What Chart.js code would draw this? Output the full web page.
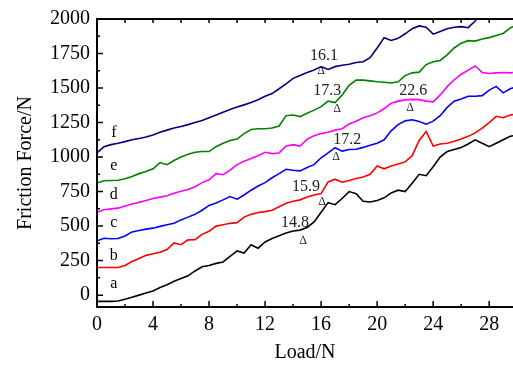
<!DOCTYPE html>
<html>
<head>
<meta charset="utf-8">
<script src="https://cdn.jsdelivr.net/npm/chart.js@4"></script>
<style>
  body { margin: 0; background: #fff; }
</style>
</head>
<body>
<canvas id="friction_chart" width="513" height="367"></canvas>
<script>
// Load (N), sampled every 0.5 N
const load = [0, 0.5, 1, 1.5, 2, 2.5, 3, 3.5, 4, 4.5, 5, 5.5, 6, 6.5, 7, 7.5, 8, 8.5, 9, 9.5,
    10, 10.5, 11, 11.5, 12, 12.5, 13, 13.5, 14, 14.5, 15, 15.5, 16, 16.5, 17, 17.5, 18, 18.5, 19, 19.5,
    20, 20.5, 21, 21.5, 22, 22.5, 23, 23.5, 24, 24.5, 25, 25.5, 26, 26.5, 27, 27.5, 28, 28.5, 29, 29.5, 30];

// Friction force (N) of each curve, curves offset as in the figure
const force_a = [-45, -45, -45, -42, -30, -15, 0, 15, 30, 55, 75, 100, 120, 140, 175, 205, 215, 230, 240, 280,
    320, 305, 365, 340, 385, 410, 430, 450, 465, 471, 490, 530, 600, 670, 655, 700, 750, 735, 680, 675,
    685, 705, 740, 760, 750, 810, 875, 865, 930, 1000, 1040, 1055, 1070, 1095, 1125, 1100, 1075, 1100, 1125, 1150, 1160];
const force_b = [200, 200, 200, 200, 215, 243, 265, 288, 300, 310, 330, 378, 365, 400, 402, 440, 462, 500, 510, 520,
    525, 565, 585, 598, 605, 615, 640, 665, 680, 690, 710, 725, 735, 820, 840, 818, 830, 845, 855, 875,
    935, 915, 935, 950, 965, 1010, 1120, 1185, 1080, 1095, 1100, 1115, 1130, 1150, 1175, 1210, 1250, 1295, 1285, 1305, 1310];
const force_c = [393, 412, 408, 410, 428, 458, 468, 478, 485, 498, 510, 520, 545, 565, 585, 615, 650, 668, 690, 714,
    695, 725, 760, 790, 815, 850, 880, 912, 905, 900, 925, 945, 995, 1030, 1068, 1043, 1055, 1057, 1070, 1085,
    1100, 1125, 1190, 1235, 1262, 1270, 1257, 1238, 1260, 1300, 1360, 1405, 1420, 1440, 1440, 1445, 1485, 1512, 1465, 1495, 1510];
const force_d = [600, 618, 625, 630, 645, 660, 672, 685, 700, 710, 720, 738, 752, 765, 785, 815, 835, 880, 872, 905,
    945, 970, 990, 1010, 1035, 1025, 1030, 1080, 1090, 1080, 1130, 1155, 1170, 1180, 1195, 1205, 1240, 1260, 1285, 1300,
    1320, 1350, 1390, 1405, 1414, 1418, 1416, 1405, 1400, 1450, 1510, 1560, 1600, 1630, 1660, 1612, 1605, 1610, 1612, 1610, 1615];
const force_e = [812, 828, 830, 832, 843, 860, 880, 895, 915, 960, 945, 975, 1000, 1020, 1035, 1040, 1040, 1075, 1100, 1120,
    1130, 1170, 1200, 1205, 1205, 1210, 1225, 1300, 1305, 1293, 1318, 1340, 1365, 1405, 1395, 1450, 1520, 1558, 1557, 1552,
    1545, 1542, 1536, 1545, 1590, 1610, 1615, 1670, 1690, 1700, 1740, 1790, 1825, 1843, 1840, 1855, 1865, 1880, 1895, 1935, 1960];
const force_f = [1030, 1075, 1090, 1100, 1112, 1125, 1135, 1145, 1160, 1180, 1195, 1210, 1222, 1235, 1250, 1265, 1285, 1305, 1325, 1345,
    1362, 1378, 1395, 1415, 1440, 1460, 1495, 1530, 1570, 1590, 1612, 1630, 1655, 1635, 1655, 1665, 1672, 1685, 1690, 1720,
    1790, 1865, 1845, 1860, 1893, 1930, 1950, 1940, 1890, 1910, 1930, 1940, 1945, 1937, 1985, 2060, 2130, null, null, null, null];

const curve_names = ['a', 'b', 'c', 'd', 'e', 'f'];
const curve_colors = ['#000000', '#ff0000', '#0000ff', '#ff00ff', '#008000', '#000080'];
const curve_forces = [force_a, force_b, force_c, force_d, force_e, force_f];

// letter labels at the start of each curve (load, force at text baseline)
const letter_load = 1.2;
const letter_force = [50, 257, 493, 693, 907, 1143];

// transition points marked with a triangle
const mark_text = ['14.8', '15.9', '17.2', '16.1', '17.3', '22.6'];
const mark_text_load = [14.14, 14.93, 17.86, 16.21, 16.43, 22.57];
const mark_text_force = [493, 757, 1093, 1700, 1450, 1450];
const mark_load = [14.71, 16.07, 17.07, 16.0, 17.14, 22.36];
const mark_force = [371, 650, 979, 1600, 1329, 1336];

const serif = '"Liberation Serif", "Times New Roman", serif';
Chart.defaults.font.family = serif;
Chart.defaults.color = '#000';

const datasets = curve_names.map((name, i) => ({
    label: name,
    data: load.map((l, j) => ({x: l, y: curve_forces[i][j]})),
    borderColor: curve_colors[i],
    borderWidth: 1.6,
    pointRadius: 0,
    tension: 0,
    spanGaps: false
}));

const frame_plugin = {
    id: 'frame',
    afterDraw(chart) {
        const {ctx, chartArea: area, scales: {x, y}} = chart;
        ctx.save();
        ctx.strokeStyle = '#000';
        ctx.lineWidth = 2;
        ctx.beginPath();
        ctx.moveTo(area.right, area.top);
        ctx.lineTo(area.left, area.top);
        ctx.lineTo(area.left, area.bottom);
        ctx.lineTo(area.right, area.bottom);
        ctx.stroke();

        // inward ticks
        ctx.lineWidth = 1.5;
        ctx.beginPath();
        for (let v = 0; v <= 28; v += 2) {
            const px = x.getPixelForValue(v);
            const len = v % 4 === 0 ? 6 : 3;
            ctx.moveTo(px, area.bottom);
            ctx.lineTo(px, area.bottom - len);
            ctx.moveTo(px, area.top);
            ctx.lineTo(px, area.top + 4);
        }
        for (let v = 0; v <= 2000; v += 125) {
            const py = y.getPixelForValue(v);
            const len = v % 250 === 0 ? 6 : 3;
            ctx.moveTo(area.left, py);
            ctx.lineTo(area.left + len, py);
        }
        ctx.stroke();

        // curve letters
        ctx.fillStyle = '#000';
        ctx.textAlign = 'center';
        ctx.textBaseline = 'alphabetic';
        ctx.font = '16px ' + serif;
        curve_names.forEach((name, i) => {
            ctx.fillText(name, x.getPixelForValue(letter_load), y.getPixelForValue(letter_force[i]));
        });

        // transition marks
        mark_text.forEach((t, i) => {
            ctx.font = '16px ' + serif;
            ctx.fillStyle = '#222';
            ctx.fillText(t, x.getPixelForValue(mark_text_load[i]), y.getPixelForValue(mark_text_force[i]));
            ctx.font = '12px ' + serif;
            ctx.fillText('\u0394', x.getPixelForValue(mark_load[i]), y.getPixelForValue(mark_force[i]));
        });
        ctx.restore();
    }
};

const config = {
    type: 'line',
    data: {datasets: datasets},
    options: {
        responsive: false,
        animation: false,
        layout: {padding: {top: 15, right: 0, left: 0, bottom: 0}},
        plugins: {
            legend: {display: false},
            tooltip: {enabled: false}
        },
        scales: {
            x: {
                type: 'linear',
                min: 0,
                max: 29.7,
                grid: {display: false, drawTicks: false},
                border: {display: false},
                ticks: {stepSize: 4, includeBounds: false, padding: 6, font: {size: 20}, color: '#000',
                    callback: (v) => String(v)},
                title: {display: true, text: 'Load/N', font: {size: 20}, color: '#000', padding: {top: 0, bottom: 2}},
                afterFit: (scale) => { scale.height = 60; }
            },
            y: {
                min: -86,
                max: 2000,
                grid: {display: false, drawTicks: false},
                border: {display: false},
                ticks: {stepSize: 250, includeBounds: false, padding: 7, font: {size: 20}, color: '#000',
                    callback: (v) => String(v)},
                title: {display: true, text: 'Friction Force/N', font: {size: 20}, color: '#000', padding: {top: 14, bottom: 0}},
                afterFit: (scale) => { scale.width = 97; }
            }
        }
    },
    plugins: [frame_plugin]
};

var ctx_friction = document.getElementById('friction_chart');
var friction_chart = new Chart(ctx_friction, config);
</script>
</body>
</html>
